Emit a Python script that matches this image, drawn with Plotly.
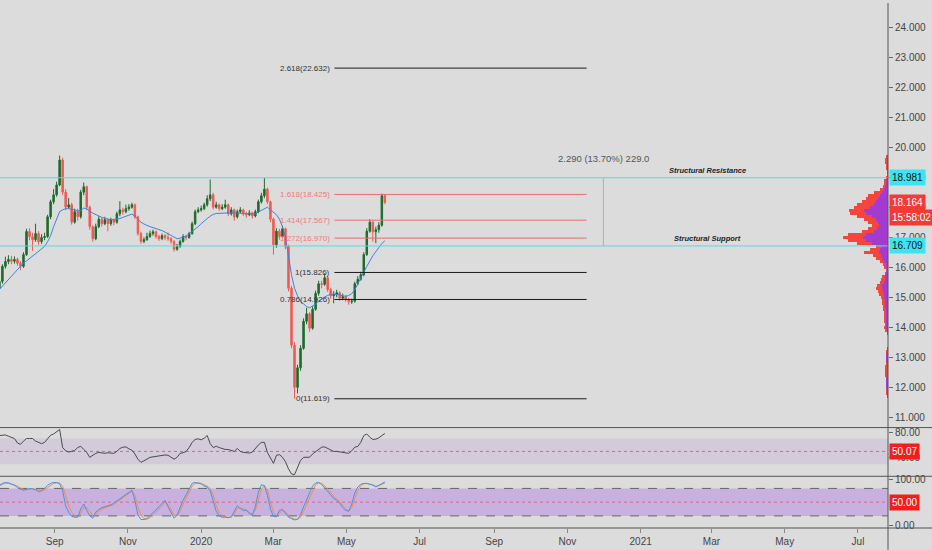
import plotly.graph_objects as go
import pandas as pd

# ---- daily-ish candles ----
first_day, last_day = "2019-07-17", "2020-06-02"

closes = [15.53, 16.03, 16.19, 16.26, 16.20, 16.26, 16.13, 16.03, 16.42, 17.19,
          17.02, 16.92, 17.12, 16.85, 16.99, 17.02, 17.68, 18.18, 18.41, 18.74,
          19.57, 18.50, 18.00, 18.08, 17.50, 17.85, 17.68, 18.50, 18.68, 18.00,
          17.35, 16.95, 17.35, 17.60, 17.45, 17.58, 17.45, 17.58, 17.50, 17.78,
          17.91, 17.85, 17.95, 18.00, 18.08, 17.68, 17.12, 16.86, 16.92, 17.02,
          17.12, 17.18, 17.02, 16.95, 17.05, 16.99, 16.95, 16.86, 16.60, 16.69,
          16.86, 17.02, 16.99, 17.12, 17.45, 17.85, 17.91, 17.95, 18.08, 18.28,
          18.41, 18.00, 18.08, 17.95, 18.00, 18.08, 17.78, 17.91, 17.68, 17.85,
          17.91, 17.78, 17.75, 17.81, 17.71, 17.85, 18.18, 18.38, 18.60, 18.18,
          17.60, 16.75, 17.20, 17.02, 17.28, 16.69, 15.30, 13.40, 12.00, 12.65,
          13.30, 14.20, 14.45, 13.97, 14.60, 15.13, 15.45, 15.43, 15.65, 15.26,
          15.05, 15.10, 15.15, 14.97, 15.02, 14.93, 14.85, 14.87, 15.45, 15.60,
          15.75, 16.42, 17.20, 17.50, 17.18, 17.25, 17.40, 18.38, 18.164]

highs = [15.65, 16.10, 16.35, 16.40, 16.38, 16.36, 16.32, 16.20, 16.50, 17.28,
         17.30, 17.15, 17.45, 17.20, 17.10, 17.15, 17.75, 18.25, 18.60, 18.85,
         19.72, 19.65, 18.60, 18.30, 18.15, 17.95, 17.95, 18.58, 18.82, 18.72,
         18.05, 17.40, 17.45, 17.70, 17.65, 17.68, 17.62, 17.65, 17.62, 17.85,
         18.20, 17.98, 18.08, 18.10, 18.15, 18.12, 17.72, 17.18, 17.00, 17.15,
         17.22, 17.25, 17.22, 17.08, 17.12, 17.10, 17.15, 17.00, 16.90, 16.78,
         16.92, 17.10, 17.08, 17.18, 17.52, 17.92, 18.00, 18.05, 18.15, 18.40,
         18.92, 18.48, 18.18, 18.12, 18.10, 18.25, 18.12, 18.00, 17.95, 17.92,
         18.00, 17.95, 17.85, 17.90, 17.85, 17.92, 18.25, 18.48, 18.97, 18.65,
         18.22, 17.65, 17.30, 17.28, 17.38, 17.32, 16.75, 15.38, 13.50, 12.75,
         13.40, 14.30, 14.65, 14.50, 14.70, 15.22, 15.55, 15.55, 15.80, 15.70,
         15.32, 15.20, 15.25, 15.20, 15.12, 15.08, 14.98, 14.95, 15.52, 15.70,
         15.85, 16.50, 17.30, 17.60, 17.55, 17.35, 17.50, 18.45, 18.425]

lows = [15.20, 15.45, 15.95, 16.10, 16.10, 16.12, 16.05, 15.90, 15.98, 16.38,
        16.90, 16.55, 16.85, 16.75, 16.78, 16.90, 16.98, 17.60, 18.10, 18.35,
        18.70, 18.40, 17.90, 17.95, 17.42, 17.45, 17.55, 17.62, 18.40, 17.90,
        17.25, 16.85, 16.90, 17.30, 17.35, 17.40, 17.20, 17.38, 17.40, 17.45,
        17.70, 17.75, 17.80, 17.88, 17.95, 17.60, 17.05, 16.78, 16.80, 16.88,
        16.98, 17.05, 16.95, 16.88, 16.90, 16.90, 16.88, 16.78, 16.52, 16.55,
        16.65, 16.82, 16.90, 16.95, 17.08, 17.40, 17.80, 17.85, 17.90, 18.02,
        18.20, 17.92, 17.95, 17.88, 17.90, 17.95, 17.70, 17.72, 17.55, 17.62,
        17.80, 17.70, 17.65, 17.70, 17.62, 17.66, 17.80, 18.12, 18.30, 18.10,
        17.50, 16.42, 16.65, 16.92, 16.98, 16.60, 15.20, 13.30, 11.619, 11.80,
        12.55, 13.25, 14.10, 13.85, 13.92, 14.55, 15.05, 15.30, 15.38, 15.18,
        14.95, 14.80, 15.00, 14.88, 14.90, 14.85, 14.75, 14.78, 14.82, 15.40,
        15.55, 15.70, 16.38, 17.15, 16.85, 16.80, 17.15, 17.35, 18.10]

first_open = 15.30
opens = [first_open] + closes[:-1]

ma_line = [15.26, 15.37, 15.48, 15.60, 15.71, 15.83, 15.95, 16.06, 16.14, 16.21,
           16.29, 16.36, 16.43, 16.50, 16.59, 16.69, 16.85, 17.05, 17.35, 17.60,
           17.85, 17.91, 17.95, 17.95, 17.94, 17.91, 17.88, 17.88, 17.97, 17.95,
           17.85, 17.80, 17.75, 17.70, 17.66, 17.63, 17.60, 17.58, 17.59, 17.60,
           17.62, 17.66, 17.70, 17.74, 17.77, 17.70, 17.60, 17.50, 17.44, 17.39,
           17.35, 17.32, 17.29, 17.26, 17.22, 17.17, 17.12, 17.07, 17.01, 16.95,
           16.97, 17.00, 17.04, 17.11, 17.18, 17.25, 17.35, 17.45, 17.55, 17.62,
           17.70, 17.76, 17.79, 17.80, 17.81, 17.81, 17.81, 17.81, 17.81, 17.80,
           17.80, 17.79, 17.78, 17.78, 17.78, 17.78, 17.84, 17.90, 17.96, 18.00,
           17.91, 17.84, 17.75, 17.60, 17.35, 17.00, 16.35, 15.75, 15.30, 15.05,
           14.87, 14.77, 14.69, 14.65, 14.70, 14.77, 14.87, 14.95, 15.01, 15.06,
           15.10, 15.10, 15.10, 15.08, 15.05, 15.03, 15.06, 15.12, 15.25, 15.43,
           15.63, 15.83, 16.03, 16.23, 16.38, 16.52, 16.66, 16.79, 16.88]

rsi = [74.6, 75.5, 75.5, 73.5, 72, 70, 63, 61, 66, 70,
       70, 70, 66, 63.5, 62, 64, 70, 75, 77, 80,
       84, 56, 51, 49, 50, 51.5, 56, 58, 53, 48.5,
       40.8, 44, 47, 48.5, 48, 47, 48, 48, 47, 50,
       54.6, 56.5, 57, 54, 52, 46, 38, 33, 35, 38,
       40.8, 41.5, 42, 42.8, 43.5, 44.5, 44, 40.8, 38, 40.8,
       47, 48, 50, 56, 64, 68.5, 69.5, 68, 70.5, 74.6,
       62, 56, 58, 56, 54.6, 53, 53, 52, 50, 54.6,
       50, 48.5, 48.5, 47.5, 49, 55, 60, 64, 64, 48.5,
       40.8, 31.5, 44, 45, 41, 34, 23, 15, 14, 24,
       36, 40.8, 40.8, 41, 46, 50, 53, 56.5, 57, 54.6,
       51.5, 50, 50, 49, 48.5, 48, 47, 51, 56.5, 57.7,
       64, 74.6, 77, 72, 68.5, 69, 71, 74.6, 77.7]

stoch_k = [87, 91, 93, 92, 89, 87, 82, 78, 76, 78,
           80, 79, 77, 73, 75, 80, 87, 91, 93, 93,
           90, 75, 42, 28, 19, 17, 17, 35, 46, 32,
           20, 15, 28, 34, 38, 40, 42, 44, 48, 53,
           58, 62, 68, 73, 76, 54, 22, 12, 12, 14,
           20, 28, 32, 40, 47, 54, 40, 26, 15, 22,
           40, 54, 66, 80, 91, 93, 92, 90, 85, 83,
           75, 52, 30, 20, 17, 17, 16, 18, 30, 42,
           36, 32, 32, 25, 22, 40, 72, 88, 86, 65,
           35, 19, 18, 32, 34, 25, 17, 14, 11, 13,
           22, 40, 55, 68, 85, 92, 93, 89, 82, 74,
           66, 58, 54, 48, 38, 32, 30, 46, 70, 83,
           89, 91, 91, 89, 87, 83, 87, 90, 94]

stoch_d = [85, 89, 91, 92, 90, 88, 85, 81, 78, 77,
           78, 79, 78, 76, 75, 77, 82, 87, 91, 92,
           92, 85, 62, 42, 28, 21, 18, 25, 38, 38,
           30, 20, 22, 30, 35, 38, 40, 42, 45, 50,
           55, 60, 65, 70, 74, 66, 40, 22, 14, 13,
           16, 22, 28, 35, 42, 50, 45, 34, 22, 20,
           30, 45, 58, 72, 85, 91, 92, 91, 88, 85,
           80, 65, 42, 27, 20, 18, 17, 17, 24, 36,
           38, 35, 33, 28, 24, 32, 56, 78, 86, 76,
           50, 28, 20, 25, 32, 29, 21, 16, 13, 12,
           17, 30, 45, 60, 75, 88, 92, 91, 86, 78,
           70, 62, 56, 51, 43, 35, 31, 38, 58, 76,
           86, 90, 91, 90, 88, 85, 86, 89, 92]

# ---- volume profile, 0.1 price rows from 19.7 down to 11.7 ----
vp_rows = [round(19.7 - 0.1 * i, 1) for i in range(81)]
vp_total = [2, 3, 3, 2, 2, 1, 1, 2,
            4, 4, 5, 8, 14, 20, 22, 26, 31, 34,
            39, 38, 31, 24, 20, 16, 20, 26, 40, 45,
            40, 31, 12, 18, 24, 15, 12, 8, 5, 4,
            2, 3, 6, 7, 8, 11, 12, 10, 9, 7,
            6, 6, 5, 5, 4, 4, 4, 4, 3, 4,
            3, 1, 0, 0, 0, 0, 1, 2, 2, 2,
            2, 2, 3, 3, 3, 3, 2, 2, 2, 2,
            2, 2, 1]
vp_up = [1, 1, 1, 1, 1, 1, 0, 1,
         2, 2, 3, 4, 6, 8, 10, 12, 14, 18,
         24, 22, 16, 12, 10, 9, 11, 14, 22, 25,
         22, 16, 6, 8, 9, 7, 6, 4, 2, 2,
         1, 2, 3, 3, 4, 6, 6, 5, 4, 4,
         3, 3, 3, 2, 2, 2, 2, 2, 2, 2,
         1, 1, 0, 0, 0, 0, 1, 1, 2, 2,
         2, 1, 1, 1, 1, 1, 2, 2, 2, 2,
         1, 1, 1]
vp_down = [t - u for t, u in zip(vp_total, vp_up)]

# ---- drawings ----
fib_ratios = [2.618, 1.618, 1.414, 1.272, 1, 0.786, 0]
fib_prices = [22.632, 18.425, 17.567, 16.970, 15.826, 14.926, 11.619]
fib_colors = ["#1a1a1a", "#ee6b6b", "#ee6b6b", "#ee6b6b", "#1a1a1a", "#1a1a1a", "#1a1a1a"]
fib_text_colors = ["#333333", "#f07a7a", "#f07a7a", "#f07a7a", "#333333", "#333333", "#333333"]
fib_start, fib_end = "2020-04-21", "2020-11-17"

resistance, support = 18.981, 16.709
measure_day = "2020-12-01"
measure_text = "2.290 (13.70%) 229.0"
note_day = "2021-02-26"
last_price = 18.164
countdown = "15:58:02"
rsi_label, stoch_label = 50.07, 50.00

month_ticks = ["2019-09-01", "2019-11-01", "2020-01-01", "2020-03-01", "2020-05-01", "2020-07-01",
               "2020-09-01", "2020-11-01", "2021-01-01", "2021-03-01", "2021-05-01", "2021-07-01"]
month_labels = ["Sep", "Nov", "2020", "Mar", "May", "Jul", "Sep", "Nov", "2021", "Mar", "May", "Jul"]

def days(series):
    return pd.date_range(first_day, last_day, periods=len(series))

BG = "#dcdcdc"
CYAN = "#3ee3f2"
RED = "#f23b35"
FONT = "Liberation Sans"

fig = go.Figure()

fig.add_trace(go.Bar(y=vp_rows, x=vp_up, orientation="h", width=0.1, marker=dict(color="#a33bd0", line=dict(width=0)),
                     xaxis="x2", yaxis="y", showlegend=False, hoverinfo="skip"))
fig.add_trace(go.Bar(y=vp_rows, x=vp_down, orientation="h", width=0.1, marker=dict(color="#f4463a", line=dict(width=0)),
                     xaxis="x2", yaxis="y", showlegend=False, hoverinfo="skip"))

fig.add_trace(go.Candlestick(x=days(closes), open=opens, high=highs, low=lows, close=closes,
                             increasing=dict(line=dict(color="#1d6b2c", width=1), fillcolor="#1d6b2c"),
                             decreasing=dict(line=dict(color="#f05a52", width=1), fillcolor="#f05a52"),
                             whiskerwidth=0, showlegend=False, xaxis="x", yaxis="y"))
fig.add_trace(go.Scatter(x=days(ma_line), y=ma_line, mode="lines", line=dict(color="#3f82dc", width=1),
                         showlegend=False, xaxis="x", yaxis="y"))

fig.add_trace(go.Scatter(x=days(rsi), y=rsi, mode="lines", line=dict(color="#454d50", width=1),
                         showlegend=False, xaxis="x", yaxis="y2"))
fig.add_trace(go.Scatter(x=days(stoch_d), y=stoch_d, mode="lines", line=dict(color="#f58a4a", width=1),
                         showlegend=False, xaxis="x", yaxis="y3"))
fig.add_trace(go.Scatter(x=days(stoch_k), y=stoch_k, mode="lines", line=dict(color="#4a90e8", width=1),
                         showlegend=False, xaxis="x", yaxis="y3"))

shapes = []
annotations = []

# fib levels
for r, p, c, tc in zip(fib_ratios, fib_prices, fib_colors, fib_text_colors):
    shapes.append(dict(type="line", xref="x", yref="y", x0=fib_start, x1=fib_end, y0=p, y1=p,
                       line=dict(color=c, width=1)))
    annotations.append(dict(xref="x", yref="y", x=fib_start, y=p, xanchor="right", yanchor="middle", xshift=-2,
                            text=f"{r:g}({p:.3f})", showarrow=False, font=dict(size=8, color=tc, family=FONT)))

# structural levels
for lvl in (resistance, support):
    shapes.append(dict(type="line", xref="paper", yref="y", x0=0, x1=1, y0=lvl, y1=lvl,
                       line=dict(color=CYAN, width=1)))
    annotations.append(dict(xref="paper", yref="y", x=1, y=lvl, xanchor="left", yanchor="middle", xshift=1,
                            text=f"{lvl:.3f}", showarrow=False, bgcolor=CYAN, borderpad=2,
                            font=dict(size=10, color="#111111", family=FONT)))
annotations.append(dict(xref="x", yref="y", x=note_day, y=resistance, yanchor="bottom", yshift=1,
                        text="Structural Resistance", showarrow=False,
                        font=dict(size=7.5, color="#222222", family=FONT, style="italic", weight="bold")))
annotations.append(dict(xref="x", yref="y", x=note_day, y=support, yanchor="bottom", yshift=1,
                        text="Structural Support", showarrow=False,
                        font=dict(size=7.5, color="#222222", family=FONT, style="italic", weight="bold")))

# measure
shapes.append(dict(type="line", xref="x", yref="y", x0=measure_day, x1=measure_day, y0=support, y1=resistance,
                   line=dict(color="#c9a4a4", width=1)))
annotations.append(dict(xref="x", yref="y", x=measure_day, y=resistance, yanchor="bottom", yshift=12,
                        text=measure_text, showarrow=False, font=dict(size=9.5, color="#555555", family=FONT)))

# last price tags
annotations.append(dict(xref="paper", yref="y", x=1, y=last_price, xanchor="left", yanchor="middle", xshift=1,
                        text=f"{last_price:.3f}", showarrow=False, bgcolor=RED, borderpad=2,
                        font=dict(size=10, color="white", family=FONT)))
annotations.append(dict(xref="paper", yref="y", x=1, y=last_price, xanchor="left", yanchor="middle", xshift=1,
                        yshift=-15, text=countdown, showarrow=False, bgcolor=RED, borderpad=2,
                        font=dict(size=10, color="white", family=FONT)))
annotations.append(dict(xref="paper", yref="y2", x=1, y=rsi_label, xanchor="left", yanchor="middle", xshift=1,
                        text=f"{rsi_label:.2f}", showarrow=False, bgcolor="#f01e1e", borderpad=2,
                        font=dict(size=10, color="white", family=FONT)))
annotations.append(dict(xref="paper", yref="y3", x=1, y=stoch_label, xanchor="left", yanchor="middle", xshift=1,
                        text=f"{stoch_label:.2f}", showarrow=False, bgcolor="#f01e1e", borderpad=2,
                        font=dict(size=10, color="white", family=FONT)))

# indicator bands
shapes.append(dict(type="rect", xref="paper", yref="y2", x0=0, x1=1, y0=30, y1=70, layer="below",
                   fillcolor="rgba(160,110,200,0.15)", line=dict(width=0)))
shapes.append(dict(type="line", xref="paper", yref="y2", x0=0, x1=1, y0=50, y1=50, layer="below",
                   line=dict(color="#e0608a", width=1, dash="dot")))
shapes.append(dict(type="rect", xref="paper", yref="y3", x0=0, x1=1, y0=20, y1=80, layer="below",
                   fillcolor="rgba(165,90,230,0.33)", line=dict(width=0)))
for lvl in (20, 80):
    shapes.append(dict(type="line", xref="paper", yref="y3", x0=0, x1=1, y0=lvl, y1=lvl, layer="below",
                       line=dict(color="#666666", width=1, dash="dash")))
shapes.append(dict(type="line", xref="paper", yref="y3", x0=0, x1=1, y0=50, y1=50, layer="below",
                   line=dict(color="#e0608a", width=1, dash="dot")))

# pane separators and price scale border
plot_h = 528
for py in (427, 476):
    shapes.append(dict(type="line", xref="paper", yref="paper", x0=0, x1=932 / 888, y0=1 - py / plot_h,
                       y1=1 - py / plot_h, line=dict(color="#555555", width=1)))
shapes.append(dict(type="line", xref="paper", yref="paper", x0=0, x1=932 / 888, y0=0, y1=0,
                   line=dict(color="#555555", width=1)))
shapes.append(dict(type="line", xref="paper", yref="paper", x0=1, x1=1, y0=-22 / plot_h, y1=1,
                   line=dict(color="#555555", width=1)))

axis_font = dict(size=10, color="#444444", family=FONT)

fig.update_layout(
    width=932, height=550,
    margin=dict(l=0, r=44, t=0, b=22),
    paper_bgcolor=BG, plot_bgcolor=BG,
    barmode="stack", bargap=0,
    font=dict(family=FONT),
    showlegend=False,
    shapes=shapes, annotations=annotations,
    xaxis=dict(type="date", domain=[0, 1], anchor="y3", range=["2019-07-17 12:00", "2021-07-26"],
               tickvals=month_ticks, ticktext=month_labels, ticks="outside", ticklen=4, tickcolor="#888888",
               tickfont=axis_font, showgrid=False, zeroline=False, showline=False,
               rangeslider=dict(visible=False)),
    xaxis2=dict(overlaying="x", anchor="y", range=[888, 0], visible=False, fixedrange=True),
    yaxis=dict(domain=[1 - 427 / plot_h, 1], anchor="x", side="right", range=[10.66, 24.80],
               tickvals=list(range(11, 25)), tickformat=".3f", ticks="outside", ticklen=4,
               tickcolor="#666666", tickfont=axis_font, showgrid=False, zeroline=False),
    yaxis2=dict(domain=[(plot_h - 475) / plot_h, (plot_h - 428) / plot_h], anchor="x", side="right",
                range=[13, 85.4], tickvals=[40, 80], tickformat=".2f", ticks="outside", ticklen=4,
                tickcolor="#666666", tickfont=axis_font, showgrid=False, zeroline=False),
    yaxis3=dict(domain=[0, (plot_h - 476) / plot_h], anchor="x", side="right",
                range=[-6.5, 106.5], tickvals=[0, 100], tickformat=".2f", ticks="outside", ticklen=4,
                tickcolor="#666666", tickfont=axis_font, showgrid=False, zeroline=False),
)

# the page's default body margin would shift the chart by 8px
fig.write_html("out.html", config={"displayModeBar": False},
               post_script="document.body.style.margin='0';document.body.style.background='%s';" % BG)
